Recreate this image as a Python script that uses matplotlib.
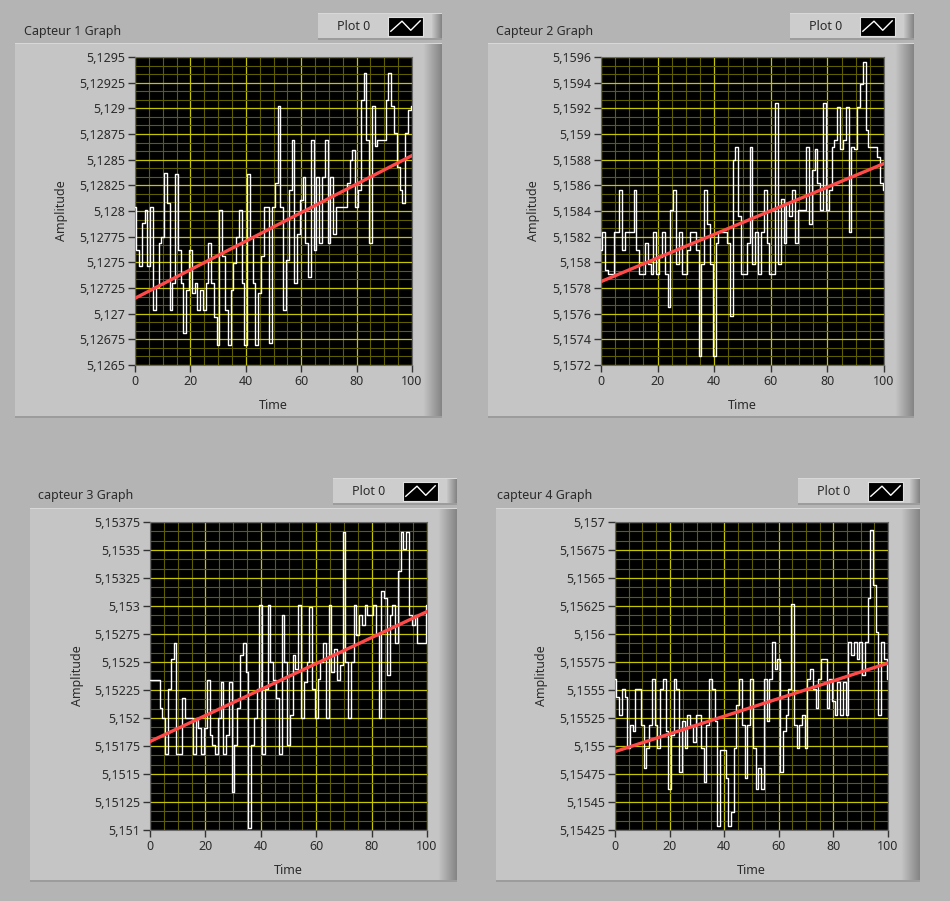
import numpy as np
import matplotlib.pyplot as plt
from matplotlib.patches import Rectangle
from matplotlib.ticker import FuncFormatter, MultipleLocator

capteur1 = [5.12804, 5.12762, 5.12746, 5.12788, 5.12801, 5.12746, 5.12804, 5.12704, 5.12726, 5.12769,
            5.12775, 5.12837, 5.12808, 5.12704, 5.1273, 5.12836, 5.12762, 5.1273, 5.12681, 5.12723,
            5.12762, 5.1272, 5.1273, 5.12704, 5.12723, 5.12704, 5.1273, 5.12769, 5.1273, 5.12697,
            5.12669, 5.12801, 5.12756, 5.12704, 5.12669, 5.12723, 5.12749, 5.12775, 5.12801, 5.1273,
            5.12669, 5.12836, 5.12775, 5.1273, 5.12669, 5.1272, 5.12756, 5.12804, 5.12804, 5.12671,
            5.12804, 5.12827, 5.12902, 5.12804, 5.12704, 5.12752, 5.1282, 5.12869, 5.1273, 5.12778,
            5.12811, 5.12833, 5.12769, 5.12736, 5.12869, 5.12762, 5.12833, 5.12769, 5.12833, 5.12869,
            5.12769, 5.12833, 5.12778, 5.12804, 5.12804, 5.12804, 5.12804, 5.12827, 5.1285, 5.12859,
            5.12804, 5.1282, 5.12908, 5.12934, 5.12869, 5.12769, 5.12902, 5.12863, 5.12869, 5.12869,
            5.12869, 5.12908, 5.12934, 5.12902, 5.12876, 5.12843, 5.1282, 5.12808, 5.12876, 5.12898,
            5.12902]
capteur2 = [5.1581, 5.15824, 5.15794, 5.15791, 5.15791, 5.15824, 5.15824, 5.15856, 5.1581, 5.15824,
            5.15824, 5.15824, 5.15856, 5.1581, 5.15791, 5.15791, 5.15815, 5.15799, 5.15791, 5.15824,
            5.15791, 5.15804, 5.15824, 5.15791, 5.15765, 5.15841, 5.15856, 5.15799, 5.15824, 5.15791,
            5.15791, 5.1581, 5.15824, 5.15824, 5.1581, 5.15727, 5.15799, 5.15856, 5.1583, 5.15799,
            5.15727, 5.15815, 5.15824, 5.15824, 5.15824, 5.15815, 5.15758, 5.1588, 5.1589, 5.15836,
            5.15791, 5.15791, 5.15815, 5.1589, 5.15799, 5.15824, 5.15791, 5.15824, 5.15856, 5.15815,
            5.15791, 5.15791, 5.15924, 5.15799, 5.15849, 5.15815, 5.15846, 5.15836, 5.15856, 5.15815,
            5.15841, 5.15841, 5.15841, 5.1589, 5.1583, 5.15872, 5.15888, 5.15862, 5.15841, 5.15924,
            5.15841, 5.15856, 5.1589, 5.15895, 5.15921, 5.15888, 5.15895, 5.15921, 5.15824, 5.1589,
            5.15888, 5.15921, 5.15939, 5.15956, 5.15903, 5.1589, 5.1589, 5.1589, 5.15882, 5.15862,
            5.15856]
capteur3 = [5.15234, 5.15234, 5.15234, 5.15234, 5.15209, 5.152, 5.15168, 5.15226, 5.15253, 5.15267,
            5.15168, 5.15168, 5.15218, 5.152, 5.152, 5.152, 5.15168, 5.152, 5.15191, 5.15168,
            5.15191, 5.15234, 5.15185, 5.15176, 5.15168, 5.152, 5.15232, 5.15168, 5.15185, 5.15232,
            5.15134, 5.15176, 5.15209, 5.15256, 5.15267, 5.15241, 5.15102, 5.15176, 5.152, 5.15226,
            5.15301, 5.15168, 5.15226, 5.15301, 5.1525, 5.15234, 5.15218, 5.15168, 5.15292, 5.1525,
            5.15176, 5.15203, 5.15256, 5.15244, 5.15301, 5.152, 5.15232, 5.1525, 5.15299, 5.15226,
            5.152, 5.15235, 5.1525, 5.15267, 5.152, 5.15301, 5.15241, 5.15262, 5.15234, 5.15247,
            5.15366, 5.1525, 5.152, 5.1525, 5.15301, 5.15274, 5.15292, 5.15283, 5.15301, 5.15292,
            5.15292, 5.15301, 5.15274, 5.152, 5.15313, 5.15307, 5.15238, 5.15292, 5.15301, 5.15267,
            5.15331, 5.15366, 5.15351, 5.15366, 5.15292, 5.15283, 5.15292, 5.15267, 5.15267, 5.15267,
            5.15301]
capteur4 = [5.1556, 5.15544, 5.15528, 5.15551, 5.15544, 5.15498, 5.15519, 5.15513, 5.15551, 5.15551,
            5.15519, 5.1548, 5.15498, 5.15519, 5.1556, 5.15519, 5.15498, 5.15551, 5.1556, 5.15513,
            5.15462, 5.1551, 5.1556, 5.15551, 5.15477, 5.15522, 5.15498, 5.15528, 5.15519, 5.15504,
            5.15528, 5.15528, 5.15498, 5.15468, 5.15519, 5.1556, 5.15551, 5.15522, 5.15429, 5.15496,
            5.15496, 5.15471, 5.15429, 5.15441, 5.15498, 5.15537, 5.1556, 5.15519, 5.15471, 5.15519,
            5.1556, 5.15498, 5.15462, 5.1548, 5.15462, 5.1556, 5.15522, 5.1556, 5.15593, 5.15569,
            5.15578, 5.15477, 5.15513, 5.15528, 5.15551, 5.15627, 5.15519, 5.15498, 5.15519, 5.15528,
            5.15498, 5.1556, 5.15569, 5.15551, 5.15534, 5.1556, 5.15578, 5.15578, 5.15534, 5.1556,
            5.1554, 5.15528, 5.15557, 5.15528, 5.15557, 5.15528, 5.15593, 5.15581, 5.15593, 5.15578,
            5.15593, 5.15563, 5.15593, 5.15632, 5.15693, 5.15644, 5.15602, 5.15528, 5.15593, 5.15578,
            5.1556]

# droite de tendance (debut, fin)
fit1 = [5.12715, 5.12854]
fit2 = [5.15785, 5.15877]
fit3 = [5.15179, 5.15295]
fit4 = [5.15495, 5.15574]

titres = ['Capteur 1 Graph', 'Capteur 2 Graph', 'capteur 3 Graph', 'capteur 4 Graph']
ylims = [(5.1265, 5.1295), (5.1572, 5.1596), (5.151, 5.15375), (5.15425, 5.157)]
ysteps = [0.00025, 0.0002, 0.00025, 0.00025]

W, H = 950, 901
fig = plt.figure(figsize=(W / 100, H / 100), dpi=100, facecolor='#b4b4b4')
FONT = 'Noto Sans'
TXT = '#2b2b2b'


def rect(x0, y0, x1, y1, color, z=-5):
    r = Rectangle((x0 / W, 1 - y1 / H), (x1 - x0) / W, (y1 - y0) / H,
                  transform=fig.transFigure, facecolor=color, edgecolor='none', zorder=z)
    fig.add_artist(r)


def bevel_box(x0, y0, x1, y1, face, bev):
    rect(x0, y0, x1, y1, face)
    # bord droit en degrade
    shades = np.linspace(0.77, 0.52, bev)
    for i, s in enumerate(shades):
        rect(x1 - bev + i, y0, x1 - bev + i + 1, y1, (s, s, s), z=-4)
    rect(x0, y0, x1, y0 + 1, '#d8d8d8', z=-4)
    rect(x0, y1 - 2, x1, y1, '#9c9c9c', z=-4)


def text(x, y, s, **kw):
    fig.text(x / W, 1 - y / H, s, fontsize=9, color=TXT, family=FONT, **kw)


def fmt(v, pos):
    return f'{v:.5f}'.rstrip('0').replace('.', ',')


icone = [(0.08, 0.25), (0.4, 0.78), (0.65, 0.3), (0.92, 0.8)]

graphes = [
    dict(data=capteur1, fit=fit1, frame=(15, 43, 442, 418), title=(24, 31),
         leg=(318, 13, 442, 40), plot=(135, 57, 412, 365), ylab=62, xlab=405),
    dict(data=capteur2, fit=fit2, frame=(488, 43, 914, 418), title=(496, 31),
         leg=(790, 13, 914, 40), plot=(601, 57, 884, 365), ylab=533, xlab=405),
    dict(data=capteur3, fit=fit3, frame=(30, 508, 457, 882), title=(38, 496),
         leg=(333, 478, 457, 505), plot=(150, 522, 427, 830), ylab=77, xlab=870),
    dict(data=capteur4, fit=fit4, frame=(496, 508, 920, 882), title=(497, 496),
         leg=(798, 478, 920, 505), plot=(615, 522, 888, 830), ylab=541, xlab=870),
]

for i, g in enumerate(graphes):
    fx0, fy0, fx1, fy1 = g['frame']
    bevel_box(fx0, fy0, fx1, fy1, '#c5c5c5', 19)
    text(g['title'][0], g['title'][1], titres[i], ha='left', va='center')

    # legende "Plot 0"
    lx0, ly0, lx1, ly1 = g['leg']
    bevel_box(lx0, ly0, lx1, ly1, '#cdcdcd', 10)
    text(lx0 + 36, (ly0 + ly1) / 2, 'Plot 0', ha='center', va='center')
    sw = fig.add_axes([(lx0 + 70) / W, 1 - (ly1 - 4) / H, 35 / W, (ly1 - ly0 - 8) / H])
    sw.set_facecolor('black')
    sw.plot([p[0] for p in icone], [p[1] for p in icone], color='white', lw=1)
    sw.set_xlim(0, 1)
    sw.set_ylim(0, 1)
    sw.set_xticks([])
    sw.set_yticks([])
    for s in sw.spines.values():
        s.set_color('#e0e0e0')

    # zone de trace
    px0, py0, px1, py1 = g['plot']
    ax = fig.add_axes([px0 / W, 1 - py1 / H, (px1 - px0) / W, (py1 - py0) / H])
    ax.set_facecolor('black')
    t = np.arange(len(g['data']))
    ax.plot(t, g['data'], color='white', lw=1, drawstyle='steps-mid', zorder=3)
    ax.plot([t[0], t[-1]], g['fit'], color='#ff4a4a', lw=2.4, zorder=4)
    ax.set_xlim(0, 100)
    ax.set_ylim(*ylims[i])
    ax.xaxis.set_major_locator(MultipleLocator(20))
    ax.xaxis.set_minor_locator(MultipleLocator(5))
    ax.yaxis.set_major_locator(MultipleLocator(ysteps[i]))
    ax.yaxis.set_minor_locator(MultipleLocator(ysteps[i] / 3))
    ax.yaxis.set_major_formatter(FuncFormatter(fmt))
    ax.grid(which='major', color='#c4c400', lw=0.9)
    ax.grid(which='minor', color='#5e5e00', lw=0.8)
    ax.set_axisbelow(True)
    ax.tick_params(which='major', direction='out', length=5, width=1, color='#333333',
                   labelsize=9, labelcolor=TXT, pad=2)
    ax.tick_params(which='minor', length=0)
    for lab in ax.get_xticklabels() + ax.get_yticklabels():
        lab.set_family(FONT)
    for s in ax.spines.values():
        s.set_color('#6a6a6a')
    text(g['ylab'], (py0 + py1) / 2, 'Amplitude', ha='center', va='center', rotation=90)
    text((px0 + px1) / 2, g['xlab'], 'Time', ha='center', va='center')

fig.savefig('out.png', dpi=100, facecolor=fig.get_facecolor())
